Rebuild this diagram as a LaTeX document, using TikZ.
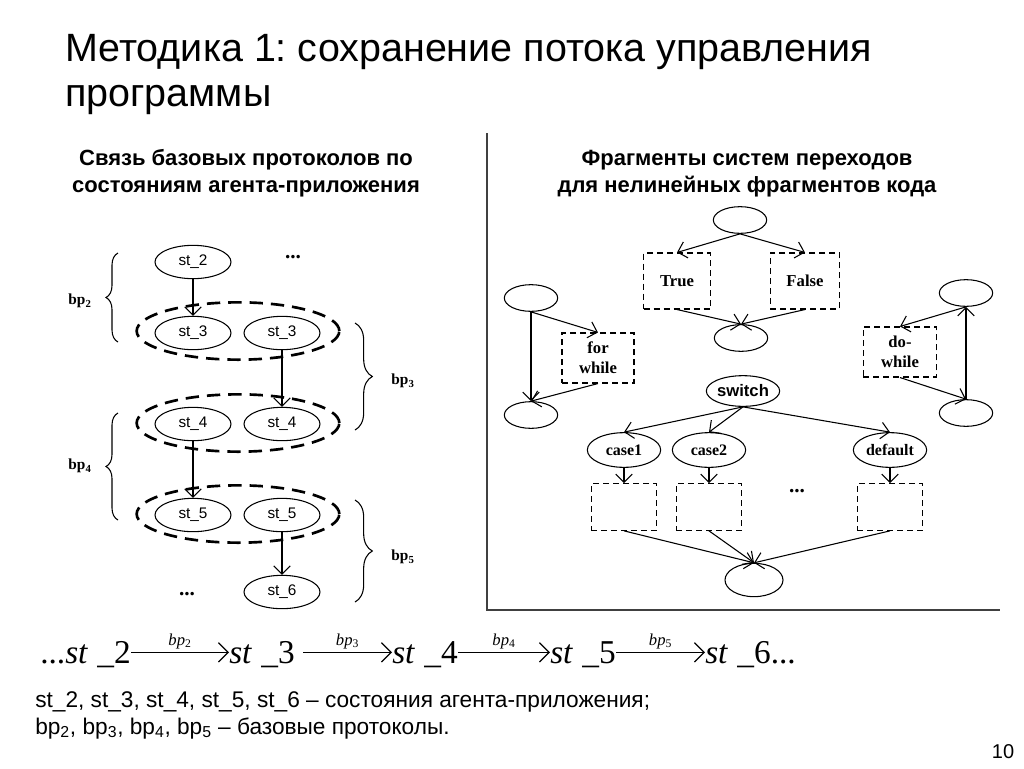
\documentclass[tikz,border=0pt]{standalone}
\usepackage{fontspec}
\setmainfont{Liberation Sans}
\newfontfamily\tnr{Liberation Serif}
\usetikzlibrary{arrows.meta,shapes.geometric,decorations.pathreplacing}
\frenchspacing

\tikzset{
	st/.style={ellipse, draw, line width=0.8pt, minimum width=57pt, minimum height=25pt, inner sep=0pt, font=\fontsize{11.5}{13}\selectfont},
	grp/.style={ellipse, draw, line width=2pt, dash pattern=on 10pt off 6pt, minimum width=152pt, minimum height=43pt},
	blank/.style={ellipse, draw, line width=0.8pt, minimum width=40pt, minimum height=20pt, inner sep=0pt},
	casenode/.style={ellipse, draw, line width=0.8pt, minimum width=55pt, minimum height=26pt, inner sep=0pt, text depth=0pt, font=\tnr\bfseries\fontsize{12}{13}\selectfont},
	frag/.style={draw, line width=0.8pt, dash pattern=on 4.5pt off 3pt, inner sep=0pt, align=center, font=\tnr\bfseries\fontsize{12.5}{15}\selectfont},
	arr/.style={-{Straight Barb[scale=2]}, line width=0.8pt},
	farr/.style={-{Straight Barb[scale=2.2]}, line width=0.9pt},
	brc/.style={decorate, decoration={brace, amplitude=#1}, line width=0.8pt},
	brc/.default=8pt,
	bplabel/.style={font=\tnr\bfseries\fontsize{11.5}{13}\selectfont},
	dots/.style={font=\tnr\bfseries\fontsize{16}{18}\selectfont},
	formula/.style={inner sep=0pt, anchor=base west, font=\tnr\fontsize{25}{28}\selectfont},
	bpsmall/.style={font=\tnr\fontsize{12.5}{14}\selectfont},
}

\begin{document}
\begin{tikzpicture}[x=0.75pt, y=0.75pt]
		%%%%% START %%%%%
		
		\fill[white] (0, 0) rectangle (1024, -768);
		\useasboundingbox (0, 0) rectangle (1024, -768);
		
		\node[anchor=north west, inner sep=0pt, align=left, font=\fontsize{29.6}{34}\selectfont] (title) at (65, -34) {Методика 1: сохранение потока управления\\программы};
		
		\node[anchor=north, inner sep=0pt, align=center, font=\bfseries\fontsize{16.5}{20}\selectfont] (headleft) at (246, -149) {Связь базовых протоколов по\\состояниям агента-приложения};
		\node[anchor=north, inner sep=0pt, align=center, font=\bfseries\fontsize{16.5}{20}\selectfont] (headright) at (747, -150) {Фрагменты систем переходов\\для нелинейных фрагментов кода};
		
		\draw[line width=1pt, color=black!75] (487, -133) -- (487, -610) -- (1000, -610);
		
		% states of the agent
		\node[st] (s2) at (193, -262) {st\_2};
		\node[st] (s3a) at (193, -333) {st\_3};
		\node[st] (s3b) at (282, -333) {st\_3};
		\node[st] (s4a) at (193, -424) {st\_4};
		\node[st] (s4b) at (282, -424) {st\_4};
		\node[st] (s5a) at (193, -515) {st\_5};
		\node[st] (s5b) at (282, -515) {st\_5};
		\node[st] (s6) at (282, -592) {st\_6};
		
		\node[grp] (g3) at (238, -331) {};
		\node[grp] (g4) at (238, -423) {};
		\node[grp] (g5) at (238, -514) {};
		
		\node[dots] (dtop) at (293, -257) {...};
		\node[dots] (dbot) at (187, -594) {...};
		
		\draw[arr] (s2) -- (s3a);
		\draw[arr] (s3b) -- (s4b);
		\draw[arr] (s4a) -- (s5a);
		\draw[arr] (s5b) -- (s6);
		
		\draw[brc=9pt] (118, -342) -- (118, -253);
		\draw[brc=9pt] (118, -520) -- (118, -413);
		\draw[brc=13pt] (355, -323) -- (355, -430);
		\draw[brc=13pt] (355, -500) -- (355, -602);
		
		\node[bplabel] (lbp2) at (80, -301) {bp\textsubscript{2}};
		\node[bplabel] (lbp4) at (80, -466) {bp\textsubscript{4}};
		\node[bplabel] (lbp3) at (403, -381) {bp\textsubscript{3}};
		\node[bplabel] (lbp5) at (403, -557) {bp\textsubscript{5}};
		
		% if - else
		\node[blank] (itop) at (740, -220) {};
		\node[frag, minimum width=50pt, minimum height=42pt] (itrue) at (677, -281) {True};
		\node[frag, minimum width=52pt, minimum height=42pt] (ifalse) at (805, -281) {False};
		\node[blank] (ijoin) at (741, -338) {};
		
		\draw[arr] (itop.south) -- (itrue.north);
		\draw[arr] (itop.south) -- (ifalse.north);
		\draw[arr] (itrue.south) -- (ijoin.north);
		\draw[arr] (ifalse.south) -- (ijoin.north);
		
		% for / while
		\node[blank] (ltop) at (531, -298) {};
		\node[blank] (lbot) at (531, -415) {};
		\node[frag, minimum width=54pt, minimum height=37.5pt] (lbody) at (598, -358) {for\\while};
		
		\draw[arr] (ltop.south) -- (lbot.north);
		\draw[arr] (ltop.south) -- (lbody.north);
		\draw[arr] (lbody.south) -- (lbot.north);
		
		% do - while
		\node[blank] (dtop2) at (966, -293) {};
		\node[blank] (dbot2) at (966, -413) {};
		\node[frag, minimum width=55pt, minimum height=37.5pt] (dbody) at (900, -352) {do-\\while};
		
		\draw[arr] (dbot2.north) -- (dtop2.south);
		\draw[arr] (dtop2.south) -- (dbody.north);
		\draw[arr] (dbody.south) -- (dbot2.north);
		
		% switch
		\node[ellipse, draw, line width=0.8pt, minimum width=55pt, minimum height=23pt, inner sep=0pt, font=\bfseries\fontsize{12.5}{14}\selectfont] (sw) at (743, -391) {switch};
		\node[casenode] (c1) at (624, -450) {case1};
		\node[casenode] (c2) at (709, -450) {case2};
		\node[casenode] (cd) at (890, -450) {default};
		\node[frag, minimum width=49pt, minimum height=35pt] (b1) at (624, -507) {};
		\node[frag, minimum width=49pt, minimum height=35pt] (b2) at (709, -507) {};
		\node[frag, minimum width=49pt, minimum height=35pt] (bd) at (890, -507) {};
		\node[dots] (dsw) at (797, -491) {...};
		\node[ellipse, draw, line width=0.8pt, minimum width=43.5pt, minimum height=25pt, inner sep=0pt] (swend) at (754, -580) {};
		
		\draw[arr] (sw.south) -- (c1.north);
		\draw[arr] (sw.south) -- (c2.north);
		\draw[arr] (sw.south) -- (cd.north);
		\draw[arr] (c1) -- (b1);
		\draw[arr] (c2) -- (b2);
		\draw[arr] (cd) -- (bd);
		\draw[arr] (b1.south) -- (swend.north);
		\draw[arr] (b2.south) -- (swend.north);
		\draw[arr] (bd.south) -- (swend.north);
		
		% chain of states
		\node[formula] (f2) at (40, -663) {...\textit{st}\;\_2};
		\node[formula] (f3) at (229, -663) {\textit{st}\;\_3};
		\node[formula] (f4) at (392, -663) {\textit{st}\;\_4};
		\node[formula] (f5) at (550, -663) {\textit{st}\;\_5};
		\node[formula] (f6) at (705, -663) {\textit{st}\;\_6...};
		
		\draw[farr] ([yshift=8pt]f2.base east) -- ([yshift=8pt]f3.base west) node[midway, above=-1pt, bpsmall] {\textit{bp}\textsubscript{2}};
		\draw[farr] ([yshift=8pt, xshift=6pt]f3.base east) -- ([yshift=8pt]f4.base west) node[midway, above=-1pt, bpsmall] {\textit{bp}\textsubscript{3}};
		\draw[farr] ([yshift=8pt]f4.base east) -- ([yshift=8pt]f5.base west) node[midway, above=-1pt, bpsmall] {\textit{bp}\textsubscript{4}};
		\draw[farr] ([yshift=8pt]f5.base east) -- ([yshift=8pt]f6.base west) node[midway, above=-1pt, bpsmall] {\textit{bp}\textsubscript{5}};
		
		\node[anchor=north west, inner sep=0pt, align=left, font=\fontsize{17}{20.25}\selectfont] (legend) at (35, -691) {st\_2, st\_3, st\_4, st\_5, st\_6 – состояния агента-приложения;\\bp\textsubscript{2}, bp\textsubscript{3}, bp\textsubscript{4}, bp\textsubscript{5} – базовые протоколы.};
		
		\node[font=\fontsize{15}{17}\selectfont] (pnum) at (1003, -752) {10};
		
		%%%%% END %%%%%
	\end{tikzpicture}
\end{document}
